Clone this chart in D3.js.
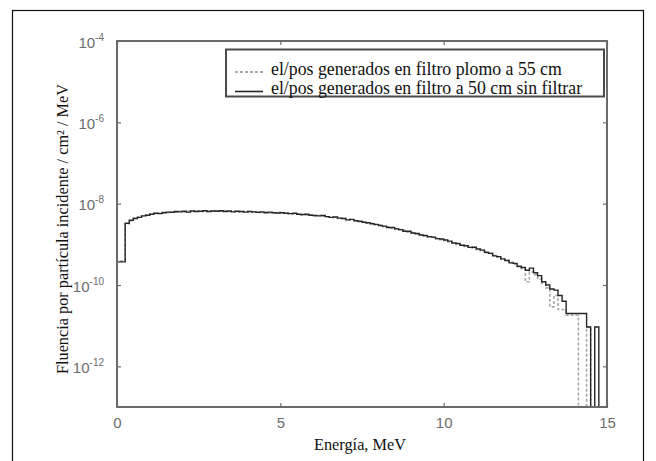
<!DOCTYPE html>
<html>
<head>
<meta charset="utf-8">
<script src="https://cdn.jsdelivr.net/npm/d3@7/dist/d3.min.js"></script>
<style>
  body { margin: 0; background: #fff; }
  svg { display: block; }
</style>
</head>
<body>
<svg id="chart" width="656" height="461"></svg>
<script>
// Energy bins (MeV) and axis definitions
const binWidth = 0.125;
const energyDomain = [0, 15];
const fluenceDomain = [1e-13, 1e-4];
const xTickValues = [0, 5, 10, 15];
const yTickExponents = [-4, -6, -8, -10, -12];

const seriesNames = [
  "el/pos generados en filtro plomo a 55 cm",
  "el/pos generados en filtro a 50 cm sin filtrar"
];

// Fluence per incident particle (1/cm²/MeV), one value per 0.125 MeV bin starting at 0 MeV
const fluenceLead55 = [
  3.9e-10, 3.9e-10, 3.2e-9, 3.8e-9, 4.4e-9, 4.7e-9, 4.9e-9, 5.3e-9,
  5.6e-9, 5.7e-9, 5.9e-9, 6.1e-9, 6.0e-9, 6.3e-9, 6.2e-9, 6.5e-9,
  6.3e-9, 6.5e-9, 6.4e-9, 6.7e-9, 6.6e-9, 6.4e-9, 6.6e-9, 6.5e-9,
  6.7e-9, 6.5e-9, 6.6e-9, 6.4e-9, 6.5e-9, 6.3e-9, 6.2e-9, 6.4e-9,
  6.2e-9, 6.1e-9, 6.3e-9, 6.1e-9, 6.2e-9, 6.0e-9, 5.9e-9, 6.1e-9,
  5.8e-9, 5.9e-9, 5.6e-9, 5.6e-9, 5.6e-9, 5.3e-9, 5.3e-9, 5.3e-9,
  5.0e-9, 5.1e-9, 4.9e-9, 4.7e-9, 4.7e-9, 4.5e-9, 4.3e-9, 4.4e-9,
  4.1e-9, 3.9e-9, 3.9e-9, 3.6e-9, 3.6e-9, 3.3e-9, 3.3e-9, 3.0e-9,
  3.0e-9, 2.7e-9, 2.7e-9, 2.5e-9, 2.4e-9, 2.3e-9, 2.2e-9, 2.0e-9,
  1.95e-9, 1.8e-9, 1.75e-9, 1.6e-9, 1.5e-9, 1.5e-9, 1.4e-9, 1.3e-9,
  1.25e-9, 1.15e-9, 1.1e-9, 1.0e-9, 9.7e-10, 8.9e-10, 8.6e-10, 8.0e-10,
  7.4e-10, 7.0e-10, 6.2e-10, 6.0e-10, 5.3e-10, 4.8e-10, 4.3e-10, 4.1e-10,
  3.6e-10, 3.2e-10, 2.8e-10, 2.5e-10, 1.2e-10, 2.1e-10, 1.8e-10, 1.4e-10,
  1.1e-10, 8.5e-11, 2.9e-11, 5.5e-11, 2.5e-11, 2.5e-11, 1.8e-11, 1.8e-11,
  1.8e-11, 0, 0, 9.3e-12, 0, 0, 0, 0
];

const fluenceOpen50 = [
  3.7e-10, 3.7e-10, 3.3e-9, 3.9e-9, 4.3e-9, 4.6e-9, 5.0e-9, 5.2e-9,
  5.5e-9, 5.8e-9, 5.7e-9, 6.0e-9, 6.2e-9, 6.1e-9, 6.4e-9, 6.3e-9,
  6.5e-9, 6.2e-9, 6.6e-9, 6.4e-9, 6.5e-9, 6.7e-9, 6.4e-9, 6.6e-9,
  6.5e-9, 6.7e-9, 6.4e-9, 6.6e-9, 6.3e-9, 6.5e-9, 6.4e-9, 6.2e-9,
  6.4e-9, 6.3e-9, 6.1e-9, 6.3e-9, 6.0e-9, 6.2e-9, 6.0e-9, 5.9e-9,
  6.0e-9, 5.8e-9, 5.7e-9, 5.8e-9, 5.5e-9, 5.4e-9, 5.5e-9, 5.2e-9,
  5.1e-9, 5.0e-9, 5.1e-9, 4.8e-9, 4.6e-9, 4.7e-9, 4.4e-9, 4.3e-9,
  4.0e-9, 4.1e-9, 3.8e-9, 3.7e-9, 3.5e-9, 3.4e-9, 3.2e-9, 3.1e-9,
  2.9e-9, 2.8e-9, 2.6e-9, 2.6e-9, 2.4e-9, 2.3e-9, 2.1e-9, 2.1e-9,
  1.9e-9, 1.85e-9, 1.7e-9, 1.65e-9, 1.55e-9, 1.5e-9, 1.38e-9, 1.35e-9,
  1.28e-9, 1.2e-9, 1.08e-9, 1.05e-9, 9.5e-10, 9.2e-10, 8.4e-10, 8.5e-10,
  7.7e-10, 7.2e-10, 6.4e-10, 6.0e-10, 5.2e-10, 5.0e-10, 4.4e-10, 4.0e-10,
  3.5e-10, 3.4e-10, 2.9e-10, 2.7e-10, 2.3e-10, 2.6e-10, 2.0e-10, 1.7e-10,
  1.2e-10, 1.0e-10, 8.0e-11, 7.5e-11, 5.5e-11, 4.0e-11, 2.0e-11, 2.0e-11,
  2.0e-11, 2.0e-11, 2.0e-11, 9.3e-12, 0, 9.3e-12, 0, 0
];

// Layout
const svg = d3.select("#chart");
const plot = { left: 117, top: 41, right: 607, bottom: 407 };

const x = d3.scaleLinear().domain(energyDomain).range([plot.left, plot.right]);
const y = d3.scaleLog().domain(fluenceDomain).range([plot.bottom, plot.top]);
const yTickValues = yTickExponents.map(e => Math.pow(10, e));

// Outer figure border
svg.append("rect")
  .attr("x", 12.5).attr("y", 10.5)
  .attr("width", 631).attr("height", 470)
  .attr("fill", "none").attr("stroke", "#111").attr("stroke-width", 1.2);

// Clip region for the histogram stairs
svg.append("defs").append("clipPath").attr("id", "plotClip")
  .append("rect")
  .attr("x", plot.left - 2).attr("y", plot.top)
  .attr("width", plot.right - plot.left + 4)
  .attr("height", plot.bottom - plot.top);

// Stairs: each bin value holds from its left edge to the next edge; empty bins fall below the axis
const yPos = v => (v > 0 ? y(v) : plot.bottom + 6);
const stairs = d3.line()
  .x(d => x(d[0]))
  .y(d => yPos(d[1]))
  .curve(d3.curveStepAfter);

function stairPoints(values) {
  const pts = [[0, 0]];
  values.forEach((v, i) => pts.push([i * binWidth, v]));
  pts.push([energyDomain[1], values[values.length - 1]]);
  return pts;
}

const curves = svg.append("g").attr("clip-path", "url(#plotClip)");
curves.append("path")
  .attr("d", stairs(stairPoints(fluenceLead55)))
  .attr("fill", "none")
  .attr("stroke", "#a8a8a8")
  .attr("stroke-width", 1.6)
  .attr("stroke-dasharray", "3,2");
curves.append("path")
  .attr("d", stairs(stairPoints(fluenceOpen50)))
  .attr("fill", "none")
  .attr("stroke", "#262626")
  .attr("stroke-width", 1.4);

// Axes (ticks point inward, on all four sides)
const tickColor = "#6e6e6e";
function styleAxis(g) {
  g.select(".domain").remove();
  g.selectAll(".tick line").attr("stroke", tickColor).attr("stroke-width", 1.2);
  g.selectAll(".tick text")
    .attr("fill", "#6c6c6c")
    .style("font-family", "'Liberation Sans', Arial, sans-serif")
    .style("font-size", "15px");
}

svg.append("g")
  .attr("transform", `translate(0,${plot.bottom})`)
  .call(d3.axisBottom(x).tickValues(xTickValues).tickSize(-4).tickSizeOuter(0).tickPadding(10)
    .tickFormat(d3.format("d")))
  .call(styleAxis);

svg.append("g")
  .attr("transform", `translate(0,${plot.top})`)
  .call(d3.axisTop(x).tickValues(xTickValues).tickSize(-4).tickSizeOuter(0).tickFormat(""))
  .call(styleAxis);

svg.append("g")
  .attr("transform", `translate(${plot.right},0)`)
  .call(d3.axisRight(y).tickValues(yTickValues).tickSize(-4).tickSizeOuter(0).tickFormat(""))
  .call(styleAxis);

const yAxis = svg.append("g")
  .attr("transform", `translate(${plot.left},0)`)
  .call(d3.axisLeft(y).tickValues(yTickValues).tickSize(-4).tickSizeOuter(0).tickPadding(13)
    .tickFormat(() => "10"))
  .call(styleAxis);

// Power-of-ten labels: "10" with a raised exponent
yAxis.selectAll(".tick text")
  .attr("dy", "0.42em")
  .each(function (d) {
    d3.select(this).append("tspan")
      .attr("dy", -7)
      .style("font-size", "10px")
      .text(String(Math.round(Math.log10(d))));
  });

// Plot frame
svg.append("rect")
  .attr("x", plot.left).attr("y", plot.top)
  .attr("width", plot.right - plot.left).attr("height", plot.bottom - plot.top)
  .attr("fill", "none").attr("stroke", "#6a6a6a").attr("stroke-width", 2);

// Axis titles
const serif = "'Liberation Serif', 'Times New Roman', serif";
svg.append("text")
  .attr("x", 360).attr("y", 450)
  .attr("text-anchor", "middle")
  .style("font-family", serif).style("font-size", "16.3px").attr("fill", "#111")
  .text("Energía, MeV");

svg.append("text")
  .attr("transform", "translate(68,229) rotate(-90)")
  .attr("text-anchor", "middle")
  .style("font-family", serif).style("font-size", "16.3px").attr("fill", "#111")
  .text("Fluencia por partícula incidente / cm² / MeV");

// Legend
const legend = svg.append("g");
legend.append("rect")
  .attr("x", 226).attr("y", 49.5).attr("width", 378).attr("height", 47)
  .attr("fill", "#fff").attr("stroke", "#4a4a4a").attr("stroke-width", 2);

const legendStyles = [
  { stroke: "#a8a8a8", dash: "3,2", width: 2.2 },
  { stroke: "#262626", dash: null, width: 1.6 }
];
seriesNames.forEach((name, i) => {
  const baseline = 74.5 + i * 19.5;
  legend.append("line")
    .attr("x1", 235).attr("x2", 263)
    .attr("y1", baseline - 2.5).attr("y2", baseline - 2.5)
    .attr("stroke", legendStyles[i].stroke)
    .attr("stroke-width", legendStyles[i].width)
    .attr("stroke-dasharray", legendStyles[i].dash);
  legend.append("text")
    .attr("x", 271).attr("y", baseline)
    .style("font-family", serif).style("font-size", "17.8px").attr("fill", "#111")
    .text(name);
});
</script>
</body>
</html>
